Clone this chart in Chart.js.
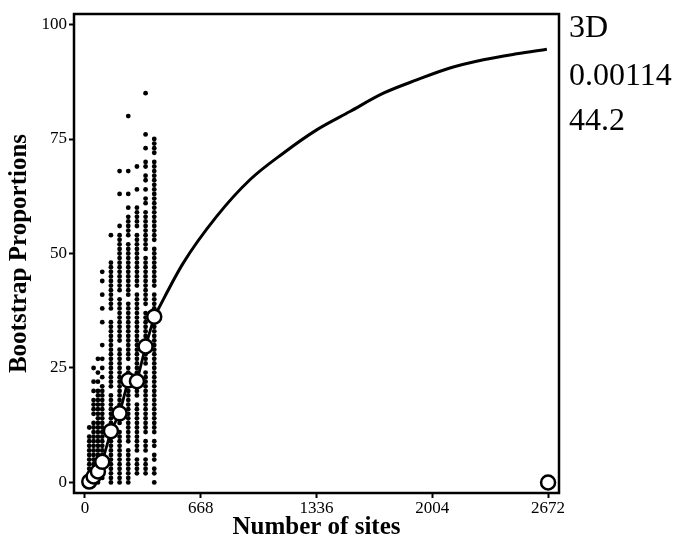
<!DOCTYPE html>
<html>
<head>
<meta charset="utf-8">
<script src="https://cdn.jsdelivr.net/npm/chart.js@4/dist/chart.umd.min.js"></script>
<style>
html,body{margin:0;padding:0;background:#fff;}
#c{display:block;}
</style>
</head>
<body>
<canvas id="c" width="684" height="543"></canvas>
<script>
// ---- data ----
const xTicks = [0, 668, 1336, 2004, 2672];
const yTicks = [0, 25, 50, 75, 100];

// sites of each bootstrap column
const siteX = [25, 50, 75, 100, 150, 200, 250, 300, 350, 400];
// bootstrap proportions of each replicate (one list per column)
const col25  = [0,1,2,3,4,5,6,7,8,9,10,12];
const col50  = [0,1,2,3,4,5,6,7,8,9,10,11,12,13,15,16,17,18,20,22,25];
const col75  = [0,1,2,3,4,5,6,7,8,9,10,11,12,13,14,15,16,17,18,19,20,22,24,27];
const col100 = [1,2,3,4,5,6,7,8,9,10,11,12,13,14,15,16,17,18,19,20,21,23,25,27,30,35,38,41,44,46];
const col150 = [0,1,2,3,4,5,6,7,8,9,10,11,12,13,14,15,16,17,18,19,21,22,23,24,25,26,27,28,29,30,31,32,33,34,35,38,39,40,41,42,43,44,45,46,47,48,54];
const col200 = [0,1,2,3,4,5,6,7,8,9,10,11,13,14,15,16,17,18,19,20,21,22,23,24,25,26,27,28,29,31,32,33,34,35,36,37,38,39,40,42,43,44,45,46,47,48,49,50,51,52,53,54,56,63,68];
const col250 = [0,1,2,3,4,5,6,7,9,10,11,12,13,14,15,16,17,18,19,20,21,22,23,24,25,27,28,29,30,31,32,33,34,35,36,37,38,39,41,42,43,44,45,46,47,48,49,50,51,52,54,55,56,57,58,60,63,68,80];
const col300 = [2,3,4,5,7,8,9,10,11,12,13,14,15,16,17,19,20,21,22,23,24,25,26,27,28,29,30,31,32,33,34,35,36,37,38,39,40,41,43,44,45,46,47,48,49,50,51,52,53,54,56,57,58,59,60,64,69];
const col350 = [2,3,4,5,7,8,9,11,12,13,14,15,16,17,18,19,20,21,22,23,24,26,27,28,29,30,31,32,33,34,35,36,37,39,40,41,42,43,44,45,46,47,48,49,51,52,53,54,55,56,57,58,59,61,62,64,66,67,69,70,73,76,85];
const col400 = [0,2,3,5,6,8,9,11,12,13,14,15,16,17,18,19,20,21,22,23,24,25,26,27,28,29,30,31,32,33,34,35,37,38,39,40,41,43,44,45,46,47,48,49,50,51,53,54,55,56,57,58,59,60,61,62,63,64,65,66,67,68,69,70,72,73,74,75];
const columns = [col25, col50, col75, col100, col150, col200, col250, col300, col350, col400];

// mean bootstrap proportion per column (open circles)
const meanY = [0.2, 1.3, 2.4, 4.5, 11.2, 15.1, 22.3, 22.1, 29.7, 36.2];
// full-length point
const fullX = [2672];
const fullY = [0];

// fitted curve beyond the sampled sizes
const curveX = [400, 567, 760, 952, 1144, 1337, 1529, 1722, 1914, 2106, 2299, 2491, 2665];
const curveY = [36.2, 47.9, 58.1, 66.1, 71.9, 77.0, 81.0, 85.0, 87.9, 90.5, 92.3, 93.6, 94.6];

const sideLabels = ["3D", "0.00114", "44.2"];

// ---- build datasets ----
const dots = [];
columns.forEach((col, i) => col.forEach(v => dots.push({x: siteX[i], y: v})));
const means = siteX.map((x, i) => ({x, y: meanY[i]}));
const full = fullX.map((x, i) => ({x, y: fullY[i]}));
const curve = curveX.map((x, i) => ({x, y: curveY[i]}));

const SERIF = '"Liberation Serif", "Times New Roman", serif';

const boxPlugin = {
  id: 'box',
  afterDatasetsDraw(chart) {
    const {ctx, chartArea: a} = chart;
    ctx.save();
    ctx.strokeStyle = '#000';
    ctx.lineWidth = 2.5;
    ctx.strokeRect(a.left, a.top, a.right - a.left, a.bottom - a.top);
    ctx.restore();
  },
  afterDraw(chart) {
    const {ctx} = chart;
    ctx.save();
    ctx.fillStyle = '#000';
    ctx.font = '32px ' + SERIF;
    ctx.textBaseline = 'alphabetic';
    ctx.textAlign = 'left';
    const ys = [37, 85, 130];
    sideLabels.forEach((t, i) => ctx.fillText(t, 569, ys[i]));
    ctx.restore();
  }
};

new Chart(document.getElementById('c'), {
  type: 'scatter',
  data: {
    datasets: [
      { data: means, pointRadius: 7, pointHoverRadius: 7, pointBackgroundColor: '#fff',
        pointBorderColor: '#000', pointBorderWidth: 2.5, showLine: true,
        borderColor: '#000', borderWidth: 2.8, tension: 0 },
      { data: full, pointRadius: 7, pointHoverRadius: 7, pointBackgroundColor: '#fff',
        pointBorderColor: '#000', pointBorderWidth: 2.5, showLine: false },
      { data: curve, showLine: true, pointRadius: 0, borderColor: '#000', borderWidth: 3,
        cubicInterpolationMode: 'monotone' },
      { data: dots, pointRadius: 2.4, pointHoverRadius: 2.4, pointBackgroundColor: '#000',
        pointBorderWidth: 0, showLine: false }
    ]
  },
  options: {
    responsive: false,
    animation: false,
    devicePixelRatio: 1,
    layout: { padding: { top: 14, right: 125, left: 0, bottom: 0 } },
    plugins: { legend: { display: false }, tooltip: { enabled: false } },
    scales: {
      x: {
        type: 'linear', min: -63, max: 2735,
        afterBuildTicks: s => { s.ticks = xTicks.map(v => ({value: v})); },
        afterFit: s => { s.height = 50; },
        border: { display: false },
        grid: { drawOnChartArea: false, drawTicks: true, tickLength: 5, tickColor: '#000', tickWidth: 2 },
        ticks: { autoSkip: false, maxRotation: 0, padding: 0, color: '#000',
          font: { family: SERIF, size: 17 }, callback: v => String(v) },
        title: { display: true, text: 'Number of sites', color: '#000',
          font: { family: SERIF, size: 25, weight: 'bold' }, padding: { top: 0, bottom: 0 } }
      },
      y: {
        type: 'linear', min: -2.3, max: 102.3,
        afterBuildTicks: s => { s.ticks = yTicks.map(v => ({value: v})); },
        afterFit: s => { s.width = 74; },
        border: { display: false },
        grid: { drawOnChartArea: false, drawTicks: true, tickLength: 5, tickColor: '#000', tickWidth: 2 },
        ticks: { autoSkip: false, padding: 2, color: '#000',
          font: { family: SERIF, size: 17 }, callback: v => String(v) },
        title: { display: true, text: 'Bootstrap Proportions', color: '#000',
          font: { family: SERIF, size: 25, weight: 'bold' }, padding: { top: 5, bottom: 0 } }
      }
    }
  },
  plugins: [boxPlugin]
});
</script>
</body>
</html>
